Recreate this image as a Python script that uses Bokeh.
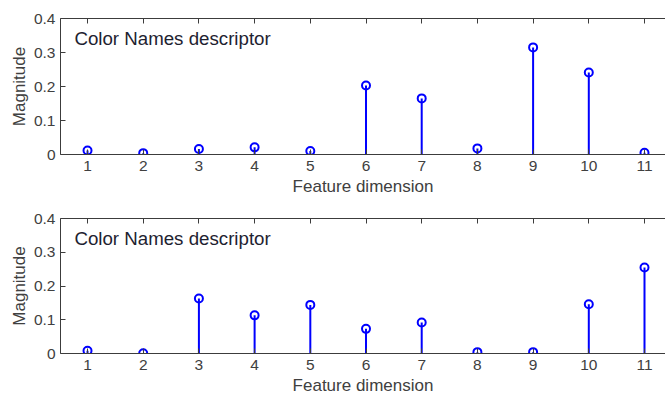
from bokeh.plotting import figure
from bokeh.layouts import column
from bokeh.models import LinearAxis, FixedTicker, Range1d, Label
from bokeh.embed import file_html
from bokeh.resources import INLINE

dims = [1, 2, 3, 4, 5, 6, 7, 8, 9, 10, 11]
top_vals = [0.012, 0.004, 0.016, 0.021, 0.010, 0.203, 0.165, 0.018, 0.315, 0.241, 0.005]
bottom_vals = [0.008, 0.001, 0.163, 0.113, 0.144, 0.073, 0.092, 0.004, 0.004, 0.146, 0.255]
y_ticks = [0, 0.1, 0.2, 0.3, 0.4]
y_tick_labels = ["0", "0.1", "0.2", "0.3", "0.4"]
panel_text = "Color Names descriptor"
x_label = "Feature dimension"
y_label = "Magnitude"

FONT = "Liberation Sans"
AXIS_COLOR = "#3c3c3c"
TEXT_COLOR = "#404040"
STEM_COLOR = "#0000ff"


def style_axis(ax):
    ax.axis_line_color = AXIS_COLOR
    ax.major_tick_line_color = AXIS_COLOR
    ax.major_tick_in = 5
    ax.major_tick_out = 0
    ax.minor_tick_line_color = None
    ax.major_label_text_font = FONT
    ax.major_label_text_font_size = "15.5px"
    ax.major_label_text_color = TEXT_COLOR
    ax.axis_label_text_font = FONT
    ax.axis_label_text_font_size = "17px"
    ax.axis_label_text_font_style = "normal"
    ax.axis_label_text_color = TEXT_COLOR


def make_panel(vals, height, border_top, border_bottom):
    p = figure(width=665, height=height,
               x_range=Range1d(0.515, 11.377), y_range=Range1d(0, 0.4),
               output_backend="svg", toolbar_location=None,
               min_border_left=60, min_border_right=0,
               min_border_top=border_top, min_border_bottom=border_bottom)
    p.outline_line_color = None
    p.grid.visible = False
    p.background_fill_color = "white"
    p.border_fill_color = "white"

    style_axis(p.xaxis[0])
    p.xaxis.ticker = FixedTicker(ticks=dims)
    p.xaxis.axis_label = x_label
    p.xaxis.major_label_standoff = 6
    p.xaxis.axis_label_standoff = 3

    style_axis(p.yaxis[0])
    p.yaxis.ticker = FixedTicker(ticks=y_ticks)
    p.yaxis.major_label_overrides = dict(zip(y_ticks, y_tick_labels))
    p.yaxis.axis_label = y_label
    p.yaxis.major_label_standoff = 5
    p.yaxis.axis_label_standoff = 2

    top_ax = LinearAxis(ticker=FixedTicker(ticks=dims))
    style_axis(top_ax)
    top_ax.major_label_text_font_size = "1px"
    top_ax.major_label_text_color = None
    top_ax.major_label_standoff = 0
    p.add_layout(top_ax, "above")

    p.segment(x0=dims, y0=[0] * len(dims), x1=dims, y1=vals,
              line_color=STEM_COLOR, line_width=2)
    p.scatter(x=dims, y=vals, marker="circle", size=8,
              fill_color=None, line_color=STEM_COLOR, line_width=2)

    p.add_layout(Label(x=0.765, y=0.34, text=panel_text, text_font=FONT,
                       text_font_size="18.7px", text_color="#1e2230",
                       text_baseline="alphabetic"))
    return p


p1 = make_panel(top_vals, 204, 18, 50)
p2 = make_panel(bottom_vals, 193, 14, 44)
layout = column(p1, p2, spacing=0)

open("out.html", "w").write(file_html(layout, INLINE))
